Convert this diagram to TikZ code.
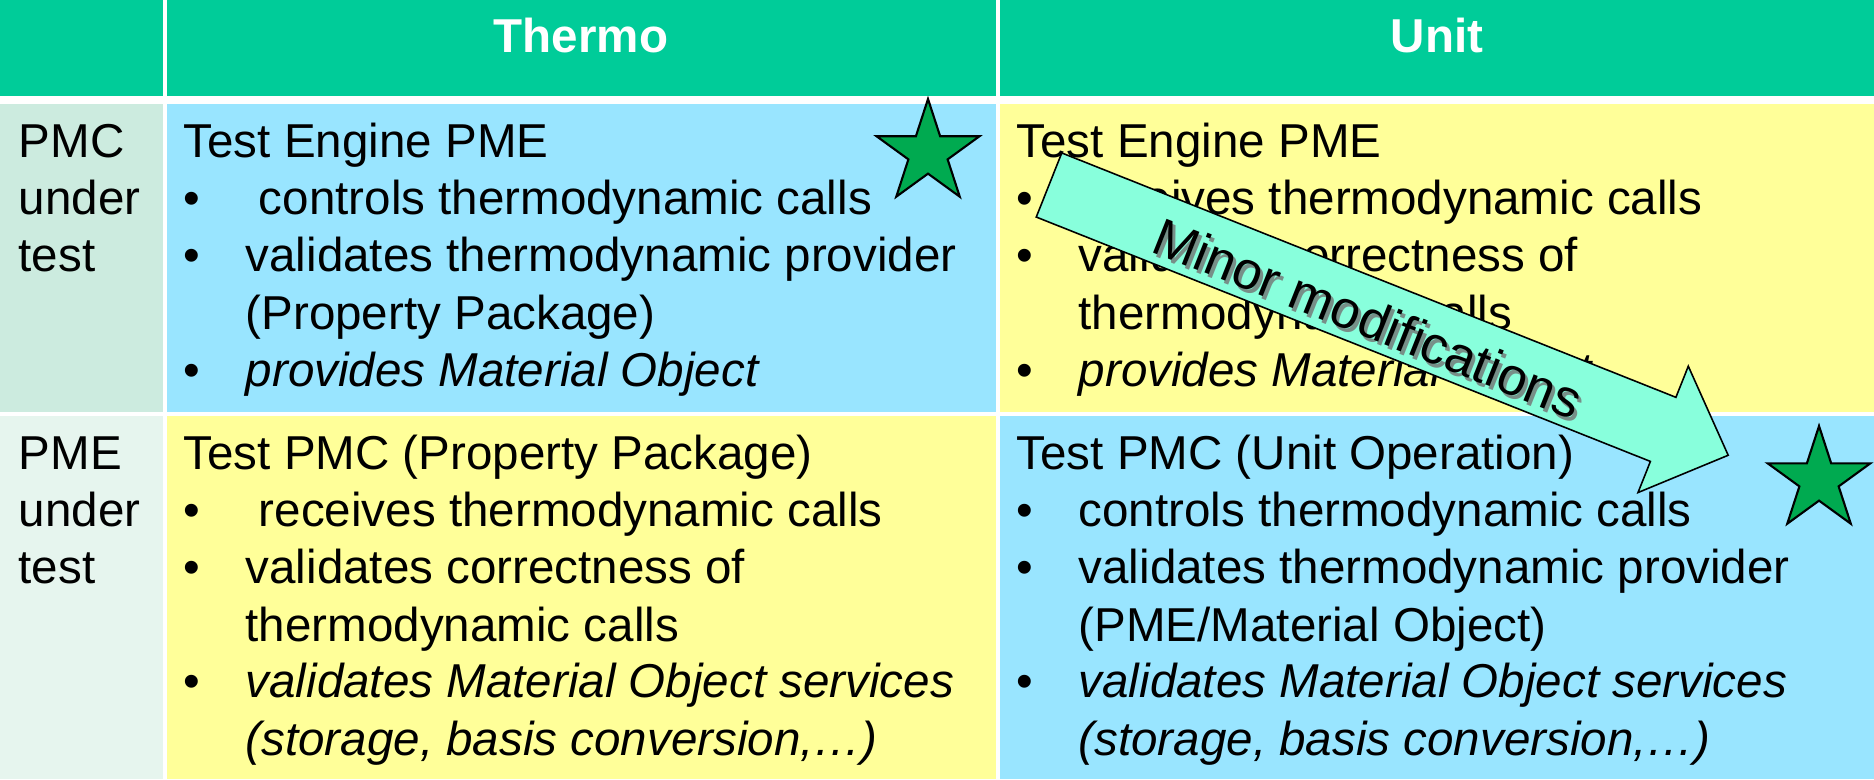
\documentclass[tikz,border=0pt]{standalone}
\usepackage{fontspec}
\setmainfont{Liberation Sans}
\usetikzlibrary{shapes.geometric}
\definecolor{hdr}{RGB}{0,204,153}
\definecolor{lab1}{RGB}{204,235,223}
\definecolor{lab2}{RGB}{230,245,238}
\definecolor{cblue}{RGB}{153,229,255}
\definecolor{cyel}{RGB}{255,255,153}
\definecolor{starg}{RGB}{0,170,80}
\definecolor{arrf}{RGB}{136,255,220}
\newcommand{\bl}{\makebox[17.64pt][l]{•}}
\begin{document}
\begin{tikzpicture}[x=0.01cm,y=-0.01cm,
  txt/.style={anchor=base west, inner sep=0pt, font=\fontsize{13.52}{16}\selectfont},
  hdrtxt/.style={anchor=base, inner sep=0pt, text=white, font=\fontsize{13.52}{16}\selectfont\bfseries},
  starsty/.style={star, star points=5, star point ratio=2.618, minimum size=1.08cm, inner sep=0pt, fill=starg, draw=black, line width=0.6pt},
  arrowsty/.style={fill=arrf, draw=black, line width=0.45pt},
  arrtxt/.style={inner sep=0pt, rotate=-21.7, font=\fontsize{15.05}{17}\selectfont}]
\useasboundingbox (0,0) rectangle (1874,779);
\fill[white] (0,0) rectangle (1874,779);
% header
\fill[hdr] (0,0) rectangle (163,96);
\fill[hdr] (167,0) rectangle (996,96);
\fill[hdr] (1000,0) rectangle (1874,96);
% row 1
\fill[lab1] (0,104) rectangle (163,412);
\fill[cblue] (167,104) rectangle (996,412);
\fill[cyel] (1000,104) rectangle (1874,412);
% row 2
\fill[lab2] (0,416) rectangle (163,779);
\fill[cyel] (167,416) rectangle (996,779);
\fill[cblue] (1000,416) rectangle (1874,779);
% header text
\node[hdrtxt] (hT) at (581,53) {Thermo};
\node[hdrtxt] (hU) at (1437,53) {Unit};
% left labels
\node[txt] (l1a) at (18,157) {PMC};
\node[txt] (l1b) at (18,214) {under};
\node[txt] (l1c) at (18,271) {test};
\node[txt] (l2a) at (18,469) {PME};
\node[txt] (l2b) at (18,526) {under};
\node[txt] (l2c) at (18,583) {test};
% row 1 col 2
\node[txt] (a1) at (183,157) {Test Engine PME};
\node[txt] (a2) at (183,214) {\bl\ controls thermodynamic calls};
\node[txt] (a3) at (183,271) {\bl validates thermodynamic provider};
\node[txt] (a4) at (245,329) {(Property Package)};
\node[txt] (a5) at (183,386) {\bl\textit{provides Material Object}};
% row 1 col 3
\node[txt] (b1) at (1016,157) {Test Engine PME};
\node[txt] (b2) at (1016,214) {\bl receives thermodynamic calls};
\node[txt] (b3) at (1016,271) {\bl validates correctness of};
\node[txt] (b4) at (1078,329) {thermodynamic calls};
\node[txt] (b5) at (1016,386) {\bl\textit{provides Material Object}};
% row 2 col 2
\node[txt] (c1) at (183,469) {Test PMC (Property Package)};
\node[txt] (c2) at (183,526) {\bl\ receives thermodynamic calls};
\node[txt] (c3) at (183,583) {\bl validates correctness of};
\node[txt] (c4) at (245,641) {thermodynamic calls};
\node[txt] (c5) at (183,697) {\bl\textit{validates Material Object services}};
\node[txt] (c6) at (245,755) {\textit{(storage, basis conversion,…)}};
% row 2 col 3
\node[txt] (d1) at (1016,469) {Test PMC (Unit Operation)};
\node[txt] (d2) at (1016,526) {\bl controls thermodynamic calls};
\node[txt] (d3) at (1016,583) {\bl validates thermodynamic provider};
\node[txt] (d4) at (1078,641) {(PME/Material Object)};
\node[txt] (d5) at (1016,697) {\bl\textit{validates Material Object services}};
\node[txt] (d6) at (1078,755) {\textit{(storage, basis conversion,…)}};
% arrow
\begin{scope}[shift={(1049,185)}, rotate=-21.7]
\draw[arrowsty] (0,34.5) -- (661,34.5) -- (661,68) -- (731,0) -- (661,-68) -- (661,-34.5) -- (0,-34.5) -- cycle;
\end{scope}
\node[arrtxt, text=black!55, opacity=0.8] (mmsh) at (1371,322) {Minor modifications};
\node[arrtxt] (mm) at (1368,318) {Minor modifications};
% stars
\node[starsty] (s1) at (928,153) {};
\node[starsty] (s2) at (1819,480) {};
\end{tikzpicture}
\end{document}
